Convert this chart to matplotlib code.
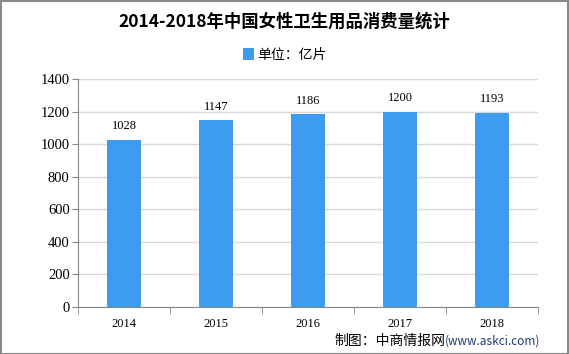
import matplotlib.pyplot as plt
import numpy as np

plt.rcParams['font.family'] = ['Noto Sans CJK SC', 'DejaVu Sans']

years = ['2014', '2015', '2016', '2017', '2018']
values = [1028, 1147, 1186, 1200, 1193]
yticks = [0, 200, 400, 600, 800, 1000, 1200, 1400]

W, H = 569, 354
fig = plt.figure(figsize=(W / 100, H / 100), dpi=100)
ax = fig.add_axes([78 / W, 1 - 307 / H, 460 / W, 228 / H])

x = np.arange(len(years))
ax.bar(x, values, width=0.37, color='#3d9cf0', zorder=3, label='单位：亿片')
for xi, v in zip(x, values):
    ax.text(xi, v + 45, str(v), ha='center', va='bottom', fontsize=9,
            family=['Liberation Serif', 'DejaVu Serif'])

ax.set_xlim(-0.5, len(years) - 0.5)
ax.set_ylim(0, 1400)
ax.set_yticks(yticks)
ax.set_yticklabels([str(t) for t in yticks], family=['Liberation Serif'], fontsize=10.5)
ax.set_xticks(x)
ax.set_xticklabels(years, family=['Liberation Serif'], fontsize=9)
ax.set_xticks(np.arange(len(years) + 1) - 0.5, minor=True)
ax.tick_params(axis='x', which='major', length=0, pad=8)
ax.tick_params(axis='x', which='minor', length=5, color='#888888')
ax.tick_params(axis='y', length=4, color='#888888', pad=2)
ax.grid(axis='y', color='#d9d9d9', linewidth=1, zorder=0)
for s in ['top', 'right']:
    ax.spines[s].set_visible(False)
for s in ['left', 'bottom']:
    ax.spines[s].set_color('#888888')

fig.text(0.5, 1 - 22 / H, '2014-2018年中国女性卫生用品消费量统计', ha='center', va='center',
         fontsize=12.5, fontweight='bold')
leg = fig.legend(loc='center', bbox_to_anchor=(0.5, 1 - 55 / H), frameon=False,
                 fontsize=10, handlelength=0.8, handleheight=1.0, handletextpad=0.2)
fig.text(445 / W, 1 - 341 / H, '制图：中商情报网', ha='right', va='center', fontsize=10)
fig.text(445 / W, 1 - 341 / H, '(www.askci.com)', ha='left', va='center', fontsize=8.5,
         color='#1f3a7a')

fig.patches.append(plt.Rectangle((0.5 / W, 0.5 / H), 1 - 1.5 / W, 1 - 1.5 / H,
                                 transform=fig.transFigure, fill=False,
                                 edgecolor='#888888', linewidth=1.5))
fig.savefig('out.png', dpi=100)
